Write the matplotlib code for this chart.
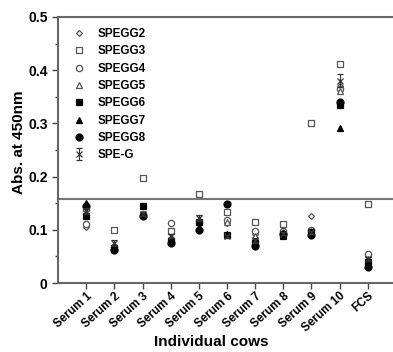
import matplotlib.pyplot as plt
import numpy as np

plt.rcParams['font.family'] = ['Liberation Sans', 'DejaVu Sans']
plt.rcParams['font.weight'] = 'bold'

samples = ["Serum 1", "Serum 2", "Serum 3", "Serum 4", "Serum 5", "Serum 6",
           "Serum 7", "Serum 8", "Serum 9", "Serum 10", "FCS"]

spegg2 = [0.105, 0.070, 0.130, 0.085, 0.110, 0.113, 0.093, 0.100, 0.125, 0.370, 0.050]
spegg3 = [0.140, 0.100, 0.197, 0.097, 0.168, 0.133, 0.115, 0.110, 0.300, 0.412, 0.148]
spegg4 = [0.110, 0.068, 0.130, 0.112, 0.115, 0.118, 0.097, 0.098, 0.100, 0.365, 0.055]
spegg5 = [0.130, 0.070, 0.130, 0.080, 0.120, 0.115, 0.088, 0.095, 0.098, 0.360, 0.045]
spegg6 = [0.125, 0.065, 0.145, 0.078, 0.115, 0.090, 0.075, 0.090, 0.095, 0.335, 0.040]
spegg7 = [0.150, 0.063, 0.128, 0.082, 0.105, 0.092, 0.072, 0.088, 0.092, 0.292, 0.035]
spegg8 = [0.145, 0.062, 0.125, 0.075, 0.100, 0.148, 0.070, 0.092, 0.090, 0.340, 0.030]
speg = [0.135, 0.075, 0.130, 0.088, 0.122, 0.088, 0.080, 0.093, 0.095, 0.380, 0.045]
speg_err = [0.005, 0.005, 0.004, 0.004, 0.006, 0.003, 0.004, 0.003, 0.003, 0.012, 0.004]

cutoff = 0.158

series = [
    ("SPEGG2", spegg2, dict(marker="D", ms=3, mfc="white", mec="#555555")),
    ("SPEGG3", spegg3, dict(marker="s", ms=4.5, mfc="white", mec="#555555")),
    ("SPEGG4", spegg4, dict(marker="o", ms=4.5, mfc="white", mec="#555555")),
    ("SPEGG5", spegg5, dict(marker="^", ms=4.5, mfc="white", mec="#555555")),
    ("SPEGG6", spegg6, dict(marker="s", ms=5, mfc="black", mec="black")),
    ("SPEGG7", spegg7, dict(marker="^", ms=5, mfc="black", mec="black")),
    ("SPEGG8", spegg8, dict(marker="o", ms=5, mfc="black", mec="black")),
]

x = np.arange(1, len(samples) + 1)

fig = plt.figure(figsize=(3.93, 3.52), dpi=100)
ax = fig.add_axes([0.148, 0.196, 0.852, 0.756])

for name, vals, style in series:
    ax.plot(x, vals, ls="none", label=name, mew=0.9, **style)
ax.errorbar(x, speg, yerr=speg_err, fmt="x", color="#333333", ms=4, mew=0.9,
            elinewidth=0.8, capsize=2, label="SPE-G")

ax.axhline(cutoff, color="#777777", lw=1.5)

ax.set_xlim(0, 11.9)
ax.set_ylim(0, 0.5)
ax.set_xticks(x)
ax.set_xticklabels(samples, rotation=42, ha="right", rotation_mode="anchor",
                   fontsize=8.5)
ax.set_yticks([0, 0.1, 0.2, 0.3, 0.4, 0.5])
ax.set_yticklabels(["0", "0.1", "0.2", "0.3", "0.4", "0.5"], fontsize=10)
ax.set_yticks(np.arange(0.05, 0.5, 0.1), minor=True)
ax.tick_params(direction="out", length=4, width=1, colors="#444444", labelcolor="black")
ax.tick_params(which="minor", direction="out", length=2.5, width=1, colors="#444444")
ax.tick_params(axis="x", pad=1)

for s in ["left", "bottom", "top"]:
    ax.spines[s].set_color("#666666")
    ax.spines[s].set_linewidth(1.5)
ax.spines["right"].set_visible(False)

ax.set_xlabel("Individual cows", fontsize=11, fontweight="bold")
ax.xaxis.set_label_coords(0.457, -0.195)
ax.set_ylabel("Abs. at 450nm", fontsize=11, fontweight="bold")
ax.yaxis.set_label_coords(-0.097, 0.53)

leg = ax.legend(loc="upper left", frameon=False, fontsize=8.5, labelspacing=0.45,
                handletextpad=0.8, borderaxespad=0.55, handlelength=1.6)
for t in leg.get_texts():
    t.set_fontweight("bold")

fig.savefig("out.png", dpi=100)
